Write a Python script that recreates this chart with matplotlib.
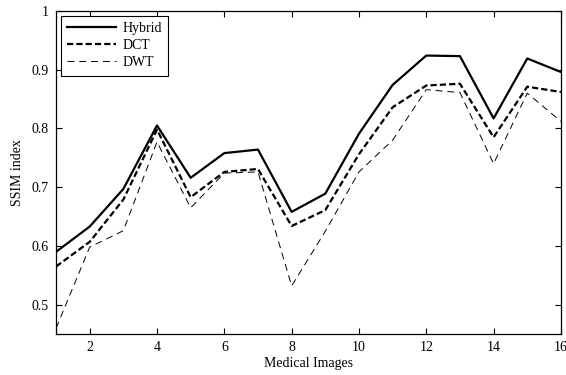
import matplotlib
matplotlib.use("Agg")
import matplotlib.pyplot as plt

plt.rcParams['font.family'] = ['Liberation Serif', 'DejaVu Serif']
plt.rcParams['lines.scale_dashes'] = False

images = list(range(1, 17))
hybrid = [0.590, 0.633, 0.697, 0.805, 0.716, 0.758, 0.764, 0.658,
          0.689, 0.791, 0.874, 0.924, 0.923, 0.817, 0.919, 0.896]
dct = [0.565, 0.607, 0.679, 0.798, 0.683, 0.726, 0.731, 0.634,
       0.661, 0.756, 0.836, 0.873, 0.876, 0.785, 0.871, 0.862]
dwt = [0.460, 0.598, 0.626, 0.777, 0.665, 0.724, 0.726, 0.532,
       0.625, 0.726, 0.780, 0.866, 0.861, 0.740, 0.860, 0.812]

xticks = [2, 4, 6, 8, 10, 12, 14, 16]
yticks = [0.5, 0.6, 0.7, 0.8, 0.9, 1.0]
ylabels = ["0.5", "0.6", "0.7", "0.8", "0.9", "1"]


def main():
    fig = plt.figure(figsize=(5.66, 3.75), dpi=100)
    ax = fig.add_axes([0.099, 0.109, 0.892, 0.862])

    ax.plot(images, hybrid, color='black', lw=1.6, label='Hybrid')
    ax.plot(images, dct, color='black', lw=1.6, dashes=(4.5, 2.2), label='DCT')
    ax.plot(images, dwt, color='black', lw=0.7, dashes=(5, 3.5), label='DWT')

    ax.set_xlim(1, 16)
    ax.set_ylim(0.45, 1.0)
    ax.set_xticks(xticks)
    ax.set_yticks(yticks)
    ax.set_yticklabels(ylabels)
    ax.tick_params(direction='in', top=True, right=True, length=4.5,
                   width=0.8, labelsize=10, pad=5)
    for s in ax.spines.values():
        s.set_linewidth(0.9)

    ax.set_xlabel("Medical Images", fontsize=10, labelpad=2)
    ax.set_ylabel("SSIM index", fontsize=10, labelpad=6)

    leg = ax.legend(loc='upper left', fontsize=10, fancybox=False,
                    edgecolor='black', framealpha=1, borderaxespad=0.35,
                    handlelength=3.5, handletextpad=0.5, borderpad=0.45,
                    labelspacing=0.3)
    leg.get_frame().set_linewidth(0.8)

    fig.savefig("out.png", dpi=100)


if __name__ == "__main__":
    main()
